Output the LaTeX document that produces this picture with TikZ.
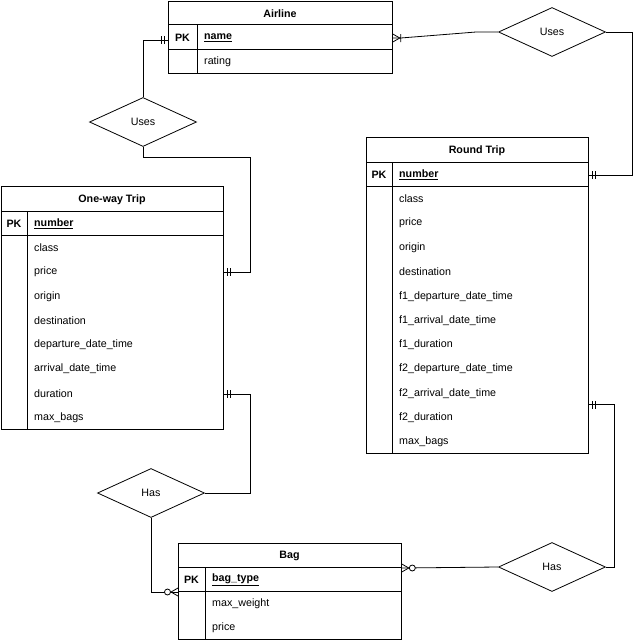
\documentclass[tikz,border=0pt]{standalone}
\usepackage{fontspec}
\setmainfont{Liberation Sans}
\usepackage{tikz}
\usetikzlibrary{shapes.geometric,calc}

\newcommand{\erfont}{\fontsize{10.7}{13}\selectfont}

\tikzset{
  tbl/.style={draw, rectangle, anchor=north west, inner sep=0pt, line width=0.8pt},
  ttl/.style={font=\erfont\bfseries, inner sep=0pt, yshift=-1pt},
  pk/.style={font=\erfont\bfseries, inner sep=0pt, yshift=-1pt},
  keyfld/.style={font=\erfont\bfseries, anchor=west, inner sep=0pt, yshift=-1pt},
  fld/.style={font=\erfont, anchor=west, inner sep=0pt, yshift=-1pt},
  rel/.style={draw, diamond, font=\erfont, minimum width=107pt, minimum height=49pt, inner sep=0pt, line width=0.8pt},
  conn/.style={line width=0.8pt},
  erone/.pic={\draw[line width=0.8pt] (4,-4) -- (4,4) (7,-4) -- (7,4);},
  eronemany/.pic={\draw[line width=0.8pt] (0,-4) -- (7,0) -- (0,4) (8,-4) -- (8,4);},
  erzeromany/.pic={\draw[line width=0.8pt] (0,-4) -- (7,0) -- (0,4);
    \draw[line width=0.8pt, fill=white] (10.5,0) circle (3pt);}
}

\begin{document}
\begin{tikzpicture}[x=1pt, y=-1pt]
  \useasboundingbox (0,0) rectangle (640,640);

  % Airline
  \node[tbl, minimum width=224pt, minimum height=72pt] (airline) at (168,1) {};
  \draw[conn] (168,24) -- (392,24) (168,49) -- (392,49) (197,24) -- (197,73);
  \node[ttl] (al-title) at (280,12.5) {Airline};
  \node[pk] (al-pk) at (182.5,37) {PK};
  \node[keyfld] (al-name) at (204,37) {\underline{name}};
  \node[fld] (al-rating) at (204,61) {rating};

  % One-way Trip
  \node[tbl, minimum width=222pt, minimum height=243pt] (oneway) at (1,186) {};
  \draw[conn] (1,211) -- (223,211) (1,235) -- (223,235) (27,211) -- (27,429);
  \node[ttl] (ow-title) at (112,198.5) {One-way Trip};
  \node[pk] (ow-pk) at (14,223) {PK};
  \node[keyfld] (ow-number) at (34,223) {\underline{number}};
  \node[fld] (ow-class) at (34,247) {class};
  \node[fld] (ow-price) at (34,271) {price};
  \node[fld] (ow-origin) at (34,296) {origin};
  \node[fld] (ow-dest) at (34,320) {destination};
  \node[fld] (ow-dep) at (34,344) {departure\_date\_time};
  \node[fld] (ow-arr) at (34,368) {arrival\_date\_time};
  \node[fld] (ow-duration) at (34,393) {duration};
  \node[fld] (ow-bags) at (34,417) {max\_bags};

  % Round Trip
  \node[tbl, minimum width=222pt, minimum height=316pt] (round) at (366,137) {};
  \draw[conn] (366,162) -- (588,162) (366,186) -- (588,186) (392,162) -- (392,453);
  \node[ttl] (rt-title) at (477,149.5) {Round Trip};
  \node[pk] (rt-pk) at (379,174) {PK};
  \node[keyfld] (rt-number) at (399,174) {\underline{number}};
  \node[fld] (rt-class) at (399,198) {class};
  \node[fld] (rt-price) at (399,222) {price};
  \node[fld] (rt-origin) at (399,247) {origin};
  \node[fld] (rt-dest) at (399,271) {destination};
  \node[fld] (rt-f1dep) at (399,296) {f1\_departure\_date\_time};
  \node[fld] (rt-f1arr) at (399,320) {f1\_arrival\_date\_time};
  \node[fld] (rt-f1dur) at (399,344) {f1\_duration};
  \node[fld] (rt-f2dep) at (399,368) {f2\_departure\_date\_time};
  \node[fld] (rt-f2arr) at (399,393) {f2\_arrival\_date\_time};
  \node[fld] (rt-f2dur) at (399,417) {f2\_duration};
  \node[fld] (rt-bags) at (399,441) {max\_bags};

  % Bag
  \node[tbl, minimum width=223pt, minimum height=96pt] (bag) at (178,543) {};
  \draw[conn] (178,567) -- (401,567) (178,591) -- (401,591) (205,567) -- (205,639);
  \node[ttl] (bag-title) at (289.5,555) {Bag};
  \node[pk] (bag-pk) at (191.5,579) {PK};
  \node[keyfld] (bag-key) at (212,579) {\underline{bag\_type}};
  \node[fld] (bag-weight) at (212,603) {max\_weight};
  \node[fld] (bag-price) at (212,627) {price};

  % relationships
  \node[rel] (uses-top) at (552,32) {Uses};
  \node[rel] (uses-left) at (143,122) {Uses};
  \node[rel] (has-left) at (151,493) {Has};
  \node[rel] (has-right) at (552,567) {Has};

  \coordinate (bag-in) at ($(bag-key)!0.5!(bag-weight)$);
  \coordinate (bag-out) at ($(bag-title)!0.5!(bag-key)$);
  \coordinate (rt-out) at ($(rt-f2arr)!0.45!(rt-f2dur)$);

  % connectors
  \draw[conn] ([yshift=-2pt]airline.west |- al-name) -- ([yshift=-2pt]uses-left.north |- al-name) -- (uses-left.north);
  \draw[conn] (airline.east |- al-name) -- ++(8,0) -- ([xshift=-22pt]uses-top.west) -- (uses-top.west);
  \draw[conn] (uses-top.east) -- ++(26,0) |- (round.east |- rt-number);
  \draw[conn] (uses-left.south) -- ++(0,10) -| ([xshift=27pt]oneway.east |- ow-price) -- (oneway.east |- ow-price);
  \draw[conn] (oneway.east |- ow-duration) -- ++(27,0) |- (has-left.east);
  \draw[conn] (has-left.south) |- (bag.west |- bag-in);
  \draw[conn] (bag.east |- bag-out) -- (has-right.west);
  \draw[conn] (has-right.east) -- ++(8,0) |- (round.east |- rt-out);

  % ends
  \pic[xscale=-1] at ([yshift=-2pt]airline.west |- al-name) {erone};
  \pic at (airline.east |- al-name) {eronemany};
  \pic at (round.east |- rt-number) {erone};
  \pic at (oneway.east |- ow-price) {erone};
  \pic at (oneway.east |- ow-duration) {erone};
  \pic[xscale=-1] at (bag.west |- bag-in) {erzeromany};
  \pic at (bag.east |- bag-out) {erzeromany};
  \pic at (round.east |- rt-out) {erone};
\end{tikzpicture}
\end{document}
